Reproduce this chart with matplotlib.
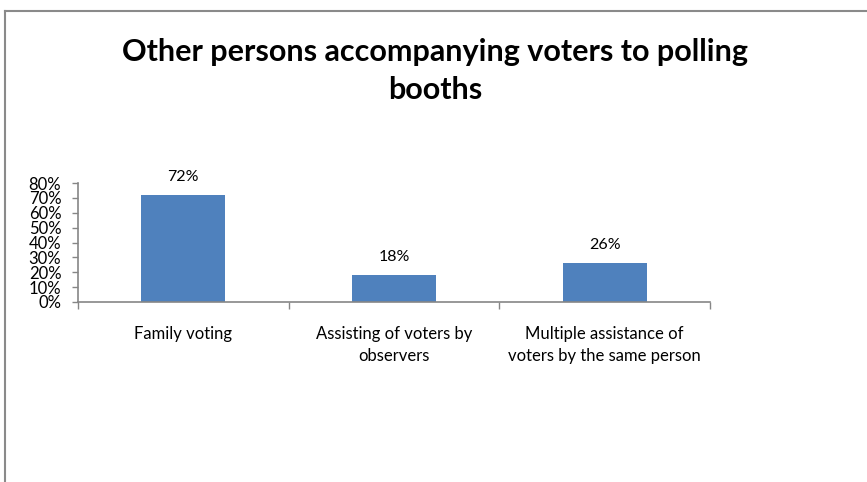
import matplotlib
matplotlib.use("Agg")
import matplotlib.pyplot as plt
from matplotlib.lines import Line2D
from matplotlib.ticker import FixedLocator, NullFormatter

categories = ["Family voting", "Assisting of voters by\nobservers", "Multiple assistance of\nvoters by the same person"]
values = [0.72, 0.18, 0.26]
yticks = [0, 0.1, 0.2, 0.3, 0.4, 0.5, 0.6, 0.7, 0.8]
ytick_labels = ["0%", "10%", "20%", "30%", "40%", "50%", "60%", "70%", "80%"]
title = "Other persons accompanying voters to polling\nbooths"

plt.rcParams['font.family'] = ['Lato', 'DejaVu Sans']

fig = plt.figure(figsize=(8.67, 4.82), dpi=100)
ax = fig.add_axes([78/867, 1-302/482, (710-78)/867, (302-183)/482])

x = list(range(len(categories)))
ax.bar(x, values, width=0.4, color="#4F81BD", zorder=2)
for xi, v in zip(x, values):
    ax.text(xi, v + 0.075, f"{round(v*100)}%", ha="center", va="bottom", fontsize=11.5)

ax.set_xlim(-0.5, len(categories) - 0.5)
ax.set_ylim(0, 0.8)
ax.set_yticks(yticks)
ax.set_yticklabels(ytick_labels, fontsize=12)
ax.xaxis.set_major_locator(FixedLocator([-0.5, 0.5, 1.5, 2.5]))
ax.xaxis.set_major_formatter(NullFormatter())
ax.tick_params(axis='x', direction='out', length=5, color="#868686", width=1)
ax.tick_params(axis='y', direction='out', length=4, color="#868686", width=1, pad=8)
for xi, c in zip(x, categories):
    ax.text(xi, -0.16, c, ha="center", va="top", fontsize=12, linespacing=1.5)

for s in ["top", "right"]:
    ax.spines[s].set_visible(False)
for s in ["left", "bottom"]:
    ax.spines[s].set_color("#868686")
    ax.spines[s].set_linewidth(1.2)

fig.text(435/867, 1-71/482, title, ha="center", va="center", fontsize=22, fontweight="bold", linespacing=1.45)

fig.add_artist(Line2D([5/867, 1.0], [1-11/482, 1-11/482], transform=fig.transFigure, color="#8a8a8a", lw=1.5))
fig.add_artist(Line2D([5/867, 5/867], [0, 1-11/482], transform=fig.transFigure, color="#8a8a8a", lw=1.5))

fig.savefig("out.png", dpi=100)
